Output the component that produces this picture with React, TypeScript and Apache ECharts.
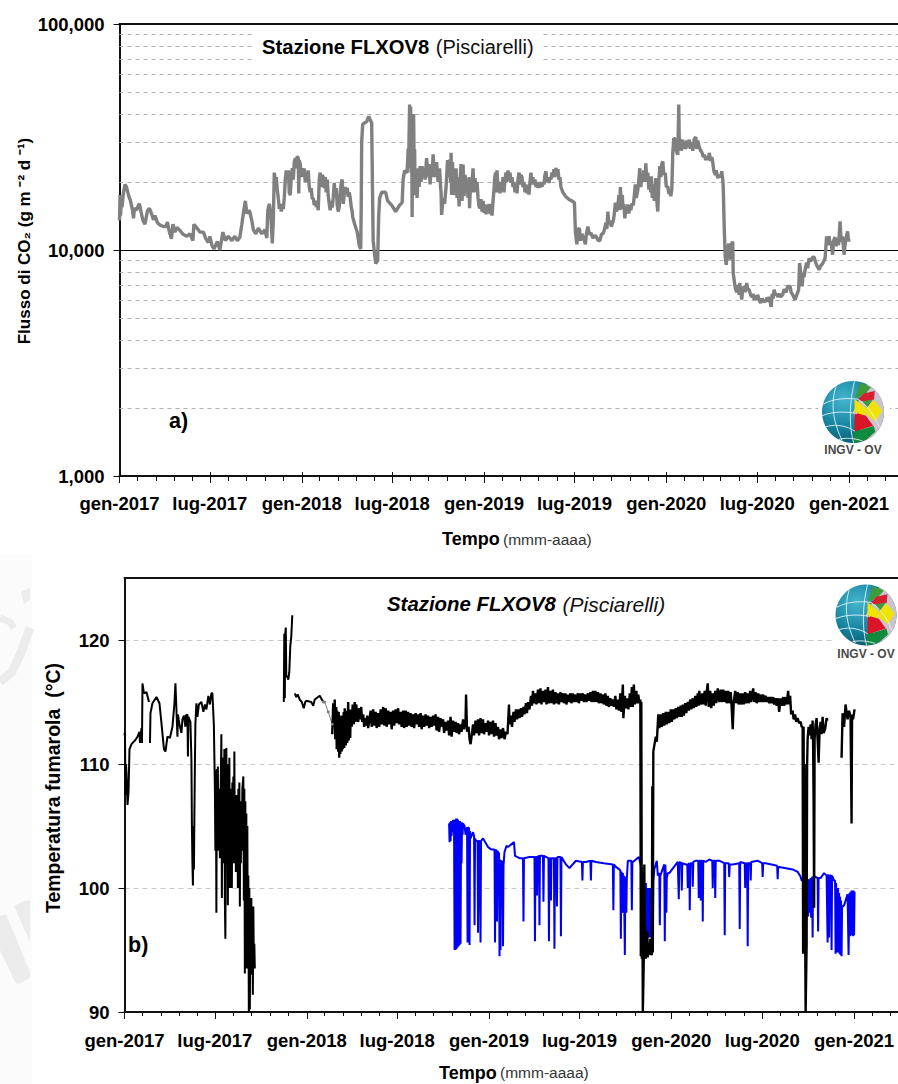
import React, { useEffect, useRef } from "react";
import * as echarts from "echarts";

const majorDays = [0, 181, 365, 546, 730, 911, 1095, 1277, 1461];
const majorLabels = ["gen-2017", "lug-2017", "gen-2018", "lug-2018", "gen-2019", "lug-2019", "gen-2020", "lug-2020", "gen-2021"];
const minorDays = [36, 73, 109, 146, 218, 254, 291, 328, 401, 438, 474, 511, 583, 619, 656, 692, 766, 803, 839, 876, 948, 985, 1022, 1058, 1131, 1168, 1204, 1241, 1314, 1350, 1387, 1424, 1497, 1534];
const fluxGridValues = [2000, 3000, 4000, 5000, 6000, 7000, 8000, 9000, 20000, 30000, 40000, 50000, 60000, 70000, 80000, 90000];
const tempTicks = [90, 100, 110, 120];

const fluxCO2 = [[0,13500],[1,17500],[2,14200],[4,16500],[5,15500],[8,18000],[11,19500],[14,19000],[18,17500],[22,16500],[26,15000],[28,13800],[30,15300],[34,15000],[38,15800],[40,16000],[43,14800],[47,13500],[51,13000],[56,14900],[60,15300],[64,14500],[68,13600],[71,14200],[76,13200],[81,12900],[88,12700],[93,12700],[96,13300],[100,12000],[104,11200],[107,13000],[111,12000],[115,12600],[121,12200],[128,11700],[135,11500],[141,11800],[147,11000],[149,13000],[155,12500],[161,12000],[168,12000],[173,11200],[178,10800],[181,11500],[185,10500],[189,10100],[196,10900],[201,10000],[207,12000],[212,11000],[218,11500],[225,11000],[231,11500],[236,11000],[241,11400],[245,13000],[248,14500],[252,16500],[255,14500],[260,15000],[265,13500],[268,12300],[273,11800],[278,12500],[285,11800],[291,12300],[295,11300],[297,15000],[300,16000],[303,14500],[306,10700],[308,13500],[310,22000],[312,20000],[314,21000],[316,18500],[318,17000],[320,15200],[322,16000],[324,14800],[326,15600],[328,15200],[330,17000],[332,20500],[334,22500],[336,21000],[338,22500],[340,18000],[342,17500],[344,21000],[346,23000],[348,20500],[350,24500],[352,25500],[354,23000],[356,26000],[358,25500],[359,17800],[360,25000],[362,24000],[364,21000],[366,23000],[368,21000],[370,23000],[372,20000],[374,21500],[376,20000],[378,22500],[380,19000],[382,18000],[384,18800],[386,16800],[388,17000],[390,15800],[392,16500],[394,15500],[396,16000],[398,15000],[400,20500],[402,22000],[404,19000],[406,21500],[408,21000],[410,18800],[412,21000],[414,18000],[416,20500],[418,17500],[420,16000],[422,15000],[424,16500],[426,15400],[428,17000],[430,19800],[432,17500],[434,18800],[436,15800],[438,14800],[440,15500],[442,18000],[444,19800],[446,20500],[448,16000],[450,17500],[452,19000],[454,18000],[456,18800],[458,17200],[460,18000],[462,17000],[464,15500],[466,14800],[467,14000],[471,13000],[476,12000],[480,10500],[483,10100],[484,15000],[485,30000],[487,36000],[495,37000],[499,39000],[505,36500],[507,16000],[508,11000],[511,9500],[513,8700],[517,9000],[519,14000],[521,17000],[525,18000],[533,18000],[537,16500],[545,15800],[553,14800],[561,15800],[566,16200],[568,20500],[571,22500],[576,22000],[578,28000],[579,23000],[580,33000],[581,44000],[582,24000],[583,43000],[584,22000],[585,40000],[586,14000],[587,38000],[588,23000],[589,40000],[590,23000],[591,28000],[592,17500],[594,22000],[596,17000],[598,23000],[600,19000],[602,23500],[604,20000],[606,23500],[608,21000],[610,23000],[612,20500],[615,25500],[618,21000],[620,24000],[622,19500],[624,23500],[626,21000],[628,26500],[631,21000],[633,23500],[635,24500],[638,20000],[641,23000],[643,19000],[644,18000],[645,14300],[648,17000],[651,16000],[654,19000],[657,25000],[659,21000],[661,25100],[663,20000],[664,26900],[665,17500],[667,24500],[668,18000],[670,22000],[672,17500],[674,23000],[676,17000],[678,21000],[680,15600],[682,20500],[684,24000],[686,16500],[688,23900],[690,17300],[692,21500],[694,18500],[696,20000],[698,17000],[700,21000],[701,15300],[703,20000],[705,18000],[708,23000],[710,18000],[712,20800],[714,18500],[716,20000],[718,17000],[720,15600],[722,15300],[724,16800],[726,14800],[728,16500],[730,14600],[732,15900],[734,14400],[736,15800],[738,14700],[740,16000],[742,14400],[744,16000],[746,14200],[748,16500],[750,18500],[751,20500],[753,22000],[755,18000],[756,22500],[758,18500],[760,20000],[762,17800],[764,20000],[766,18200],[768,21000],[770,18000],[772,20500],[774,22000],[776,20000],[778,22500],[780,20500],[782,22000],[784,19800],[786,21000],[788,19000],[790,20000],[792,18000],[794,19500],[796,17800],[798,20500],[800,22000],[802,19500],[804,21500],[806,21000],[808,19000],[810,20000],[812,18000],[814,19500],[816,17800],[818,19000],[820,17600],[822,20000],[824,22000],[826,19500],[828,21000],[830,19500],[832,20500],[834,19000],[836,20000],[838,18800],[840,19800],[842,18900],[844,20000],[846,19000],[848,20000],[850,19500],[852,21500],[854,22300],[856,20000],[858,21000],[860,19800],[862,21000],[864,20500],[866,22000],[868,21000],[870,22800],[872,21000],[874,23100],[876,21500],[878,22800],[880,20500],[882,21000],[884,19000],[888,18000],[893,17300],[897,17000],[901,16700],[906,16500],[911,16200],[913,12000],[915,11000],[916,10600],[918,12300],[921,12500],[923,11000],[926,11800],[929,11300],[931,11000],[933,10600],[935,11800],[938,12700],[941,11700],[944,11900],[948,11300],[952,11600],[955,11400],[959,11000],[962,11000],[965,11700],[969,11900],[972,12500],[974,13200],[976,12400],[978,14800],[980,13000],[982,13500],[985,12700],[989,13500],[991,14500],[993,16200],[995,14800],[998,15600],[1000,17500],[1002,15000],[1003,19000],[1005,16000],[1007,17500],[1008,15200],[1010,16000],[1012,13800],[1014,15500],[1016,14500],[1018,15900],[1020,14500],[1022,15800],[1024,15000],[1026,16000],[1029,15800],[1031,17500],[1033,19500],[1035,17000],[1038,18500],[1040,20500],[1042,23000],[1044,19000],[1046,21500],[1048,20000],[1050,22500],[1052,20000],[1054,24200],[1056,20000],[1058,22000],[1060,18500],[1062,21000],[1064,18000],[1065,21200],[1067,17000],[1069,19500],[1071,16500],[1074,20800],[1076,16500],[1078,14800],[1080,20000],[1082,23500],[1084,21000],[1086,24000],[1088,24700],[1090,21500],[1093,21900],[1095,19000],[1098,19100],[1100,17800],[1102,18000],[1104,17300],[1106,18500],[1108,26900],[1110,31300],[1113,30800],[1115,27500],[1118,26400],[1120,44000],[1121,29000],[1123,31000],[1125,27500],[1128,30800],[1130,28000],[1132,30000],[1134,28000],[1136,30500],[1138,28500],[1141,30800],[1143,28000],[1146,30000],[1148,27500],[1151,31000],[1154,31600],[1156,28000],[1158,30500],[1161,28500],[1164,27500],[1167,26800],[1169,25800],[1171,26400],[1174,25000],[1176,26000],[1179,25000],[1181,26900],[1184,24800],[1186,25800],[1188,24500],[1190,22500],[1193,21500],[1195,22500],[1198,20800],[1201,21500],[1204,21000],[1206,22300],[1208,20500],[1209,19100],[1211,12600],[1213,9300],[1215,8600],[1217,9500],[1220,10700],[1222,9060],[1225,10500],[1228,10900],[1229,7900],[1233,6800],[1236,6500],[1238,7000],[1241,6340],[1242,7140],[1244,6600],[1246,6030],[1248,6700],[1251,6900],[1253,6500],[1256,7140],[1258,6700],[1261,6670],[1264,6300],[1267,6200],[1269,6400],[1271,6030],[1274,6300],[1276,6000],[1278,6340],[1281,6000],[1284,5830],[1287,6100],[1290,5900],[1294,5950],[1297,6150],[1299,5900],[1301,6200],[1303,5900],[1305,5600],[1307,6400],[1309,6100],[1311,6670],[1314,6300],[1316,6400],[1318,6200],[1321,6400],[1324,6200],[1328,6340],[1331,6700],[1335,6500],[1338,6900],[1343,6900],[1345,6500],[1348,6340],[1353,6030],[1356,6300],[1360,6670],[1362,8760],[1364,8000],[1367,6900],[1369,7900],[1371,7600],[1373,8200],[1376,8800],[1378,8300],[1381,9200],[1384,8900],[1388,9300],[1391,9300],[1394,8800],[1397,8500],[1401,8180],[1404,8500],[1408,8700],[1413,9200],[1416,11500],[1418,10500],[1421,11500],[1423,10500],[1425,10900],[1428,9530],[1430,11000],[1433,11400],[1435,10400],[1438,11200],[1440,10500],[1443,13400],[1445,11000],[1446,10900],[1448,11500],[1451,9530],[1454,11000],[1458,12100],[1460,10900],[1461,11200]];

const tempBlackEarly = [[0,112.5],[1,112.2],[2,107.5],[3,110],[4,109.3],[6,106.7],[8,107.7],[10,111.2],[14,111.6],[21,111.9],[26,112.2],[30,112.6],[31,111.7],[34,112.9],[35,111.7],[36,116.5],[39,115.7],[44,115.8],[49,115],[50,null],[51,111.7],[52,114.1],[56,114.9],[64,115.4],[70,114.9],[74,113.3],[79,111.2],[82,111],[86,112.2],[91,112.1],[96,113],[100,114.9],[102,116.5],[104,114.4],[106,112.2],[107,114],[110,113.2],[114,112.5],[116,113.6],[119,113.9],[122,113],[123,113.9],[126,114],[127,110.6],[128,113.8],[131,113.5],[132,113.4],[134,110.4],[135,105],[136,102],[137,100.2],[138,105],[139,101.5],[140,106],[141,110],[142,113.3],[144,114.9],[146,113.8],[149,114.8],[154,115],[158,114.2],[161,114.8],[164,114.4],[168,115.5],[171,114.8],[174,115.7],[176,115.7],[179,113.1],[181,108],[182,103],[183,109.5],[184,98],[185,109.6],[186,104],[187,109.8],[188,103],[190,108],[191,102.4],[192,106],[194,112.4],[195,99.2],[196,110.5],[198,102],[200,111.2],[201,99],[202,95.9],[203,105],[204,111.3],[205,102],[206,110],[207,98.6],[208,108],[209,101],[210,110.5],[211,100],[212,108],[213,104],[214,107.5],[215,100],[216,108.5],[217,105],[218,109],[219,102],[220,111],[221,103],[222,107],[223,101.3],[224,107.5],[225,102],[226,107],[227,100],[228,108],[229,103],[230,108.5],[231,98.5],[232,106],[233,102],[234,107],[235,103],[236,108],[238,109],[239,99],[240,108],[241,93.1],[242,107],[243,94],[244,106],[245,93.5],[246,105],[247,94],[248,101],[249,90],[250,100],[251,90.2],[252,98],[253,93],[254,99.2],[255,94],[256,98],[257,91.4],[258,98.5],[259,94],[260,95.5],[261,93.5],[262,null],[319,115],[320,120.5],[321,115.3],[322,120.6],[323,121],[324,117],[326,117.1],[328,116.8],[330,117.4],[332,119.5],[334,120.3],[336,122],[338,null],[341,115.7],[344,115.4],[347,115.6],[351,115.2],[355,115],[359,114.5],[362,115],[364,115.1],[374,115],[378,114.7],[381,115.2],[391,115.5],[398,115]];

const tempGraySegment = [[398,115],[401,115],[408,114.2],[416,113.2]];

const tempBlackBand = [[416,112.4],[418,114.9],[420,113],[421,115.2],[422,112],[424,114.6],[425,111.2],[426,114.3],[428,111],[429,114.2],[430,110.5],[431,113.9],[432,110.8],[434,113.6],[435,111],[436,113.9],[437,111.2],[439,114.2],[440,111.3],[441,114.5],[443,111.5],[445,114.3],[446,111.7],[448,115],[449,111.9],[450,114],[452,112.1],[453,114.4],[455,113],[457,114.8],[459,113.2],[461,115],[463,113.4],[464,114.8],[466,114],[468,113.4],[470,114.5],[472,113.6],[474,114.6],[476,113.4],[478,114],[480,113],[482,113.7],[484,113.1],[486,113.9],[488,112.9],[490,113.5],[493,114.3],[495,113],[498,114.4],[500,113.1],[503,114.2],[505,112.9],[508,114.1],[510,113],[513,114.4],[515,113.2],[518,114.6],[520,113.1],[523,114.5],[525,113],[528,114.3],[530,113.2],[533,114.2],[535,112.8],[538,114.3],[540,113.1],[543,114.4],[545,113.3],[548,114.5],[550,113.2],[553,114.2],[555,113],[558,114.3],[560,112.9],[563,114.3],[565,113],[568,114.2],[570,113.1],[573,114.1],[575,113],[578,114],[580,112.9],[583,114.1],[585,113.2],[588,114],[590,113],[593,114.1],[595,112.8],[598,113.9],[600,113],[603,114],[605,113.1],[608,113.9],[610,112.9],[613,113.8],[615,113],[618,113.9],[620,113.1],[623,114],[625,112.7],[628,113.8],[630,112.6],[633,113.7],[635,113],[638,113.6],[640,112.5],[643,113.4],[645,112.7],[648,113.5],[650,112.3],[653,113.8],[655,112.2],[658,113.5],[660,112.6],[663,113.4],[665,112.5],[668,113.3],[670,112.4],[673,113.2],[675,112.6],[678,113.6],[680,112.8],[683,113.5],[684,115.6],[686,112.6],[689,113],[691,112],[693,111.6],[695,112.2],[698,113.2],[700,112.3],[703,113.5],[705,112.5],[708,113.6],[710,112.3],[713,113.7],[715,112.5],[718,113.6],[720,112.4],[723,113.3],[725,112.6],[728,113.5],[730,112.3],[733,113.4],[735,112.4],[738,113.5],[740,112.2],[743,113.3],[745,112.3],[748,113],[750,112],[753,112.8],[755,112.1],[758,112.9],[761,112],[764,112.6],[767,112.4],[770,114.8],[771,113.2],[774,113.9],[776,113],[779,114.2],[781,113.4],[784,114.4],[786,113.6],[789,114.4],[791,113.7],[794,114.5],[796,113.8],[799,114.6],[801,114],[804,114.9],[806,114.1],[808,115],[811,114.4],[814,115.5],[816,114.7],[818,115.9],[820,114.9],[823,115.7],[825,114.8],[828,116],[830,114.9],[833,116.1],[835,114.8],[838,115.9],[840,115],[843,116],[845,114.8],[848,116.2],[850,114.9],[853,115.9],[855,114.9],[858,116],[860,114.8],[863,115.8],[865,114.9],[868,115.7],[870,114.8],[873,115.8],[875,115],[878,115.7],[880,114.9],[883,115.7],[885,114.8],[888,115.6],[890,115],[893,115.7],[895,114.9],[898,115.7],[900,115],[903,115.6],[905,115],[908,115.7],[910,114.9],[913,115.7],[915,115.1],[918,115.7],[920,115],[923,115.6],[925,115],[928,115.7],[930,115.1],[933,115.8],[935,115],[938,115.9],[940,115],[943,115.9],[945,115],[948,115.8],[950,114.9],[953,115.7],[955,114.9],[958,115.6],[960,114.8],[963,115.7],[965,114.7],[968,115.5],[970,114.6],[973,115.3],[975,114.7],[978,115.2],[980,114.6],[983,115.5],[985,114.4],[988,115.2],[990,114.3],[993,115.7],[995,114.2],[998,116.4],[999,113.7],[1002,115.5],[1004,114.5],[1007,115.3],[1009,114.4],[1012,115.7],[1014,114.6],[1016,116.2],[1018,114.6],[1020,116.4],[1022,114.8],[1025,115.9],[1027,114.9],[1029,115.6],[1031,114.9],[1033,115.2],[1034,94.5],[1035,115],[1036,94.3],[1037,101],[1038,90],[1039,90],[1040,94.5],[1041,101.9],[1042,94.5],[1043,97],[1044,94.3],[1045,95.7],[1046,94.6],[1047,96.5],[1048,94.4],[1049,95.6],[1050,94.6],[1051,95.5],[1052,94.7],[1053,95.9],[1054,94.8],[1055,94.6],[1056,94.7],[1057,108.2],[1058,94.8],[1059,111],[1061,111.5],[1064,112.2],[1066,111.8],[1069,114],[1071,112.9],[1074,114],[1076,113],[1079,114.1],[1081,113.1],[1084,114.2],[1086,113.2],[1089,114.2],[1091,113.3],[1094,114.4],[1096,113.4],[1099,114.4],[1101,113.6],[1104,114.5],[1106,113.7],[1109,114.6],[1111,113.8],[1114,114.7],[1116,113.8],[1118,114.8],[1120,113.9],[1123,114.9],[1125,114.1],[1128,115],[1130,114.3],[1133,115.2],[1135,114.4],[1138,115.3],[1140,114.5],[1143,115.5],[1145,114.6],[1148,115.7],[1150,114.7],[1151,115.9],[1154,114.8],[1157,115.7],[1159,114.8],[1162,115.9],[1164,114.7],[1166,115.9],[1168,116.5],[1170,114.6],[1173,115.9],[1175,114.5],[1178,115.7],[1180,114.7],[1183,115.9],[1185,114.9],[1188,116.1],[1191,115],[1194,116],[1196,115],[1199,116],[1201,115],[1204,115.9],[1206,114.9],[1209,115.9],[1211,114.9],[1214,115.8],[1216,114.5],[1218,112.8],[1220,115],[1223,115.9],[1225,114.9],[1228,115.8],[1230,114.8],[1233,115.7],[1235,114.8],[1238,115.7],[1240,114.8],[1243,115.8],[1245,114.9],[1248,115.7],[1250,114.9],[1253,115.9],[1255,115],[1259,116.1],[1261,115],[1264,115.8],[1266,114.9],[1269,115.7],[1271,115],[1274,115.6],[1276,115],[1279,115.6],[1281,115],[1284,115.5],[1286,115],[1289,115.4],[1291,114.9],[1294,115.4],[1296,114.9],[1299,115.4],[1301,114.8],[1304,115.3],[1306,114.7],[1309,115.3],[1311,114.2],[1314,115.3],[1316,114.7],[1319,115.4],[1321,114.7],[1324,115.4],[1326,114.8],[1329,115.9],[1331,114.8],[1333,115.5],[1335,114],[1338,114.3],[1340,113.6],[1343,114],[1345,113.4],[1348,113.7],[1351,113.3],[1354,113.4],[1356,113],[1358,113],[1359,94.7],[1360,113],[1361,97],[1362,110],[1363,97],[1364,90],[1365,90],[1366,95.4],[1367,110],[1368,112],[1370,113],[1372,112.3],[1374,113.2],[1376,112],[1378,113.5],[1379,111.7],[1380,107],[1381,98.4],[1382,112],[1384,113.2],[1386,113.7],[1388,112],[1390,110.1],[1392,112.8],[1394,113.4],[1396,112.4],[1398,113.8],[1400,112.5],[1403,112.8],[1406,113.7],[1408,113.5],[1410,null],[1436,110.5],[1438,114.1],[1441,113],[1444,114.8],[1448,113.6],[1451,114.3],[1454,113.8],[1456,105.2],[1457,114],[1459,113.6],[1462,114.4]];

const tempBlue = [[650,105.2],[651,103.7],[652,105.3],[653,103.8],[654,105.4],[655,104.2],[656,105.4],[657,104.5],[658,105.5],[659,105.5],[660,104.4],[661,95],[662,105.5],[663,95],[664,105.6],[665,95.1],[666,105.6],[667,95.2],[668,105.5],[669,95.3],[670,105.4],[671,95.4],[672,105.4],[673,95.5],[674,105.3],[675,102],[676,105.3],[677,104.3],[678,105.2],[681,105],[683,104.3],[686,104.9],[687,95.6],[688,104.9],[690,104.8],[691,95.4],[692,104.6],[693,104],[698,104.5],[700,104.2],[701,97],[702,104],[704,103.8],[707,103.8],[708,96.4],[709,103.8],[711,103.8],[712,103.8],[713,95.6],[714,103.8],[718,104],[728,103.3],[735,103.1],[741,103.1],[742,95.6],[743,103.1],[745,103],[746,97.3],[747,103],[748,102.9],[750,102.8],[751,94.5],[752,102.3],[753,95],[754,102.2],[757,102.1],[758,95.3],[759,101.8],[761,102.9],[765,103.4],[768,103.3],[780,103.7],[782,102.6],[791,102.4],[798,102.4],[799,97.3],[800,102.4],[811,102.5],[821,102.5],[822,95.7],[823,102.5],[825,102.5],[826,99.4],[827,102.5],[830,102.6],[831,97],[832,102.6],[838,102.6],[839,98.9],[840,102.6],[849,102.4],[850,95.7],[851,102.4],[853,102.4],[854,99],[855,102.4],[860,102.4],[861,95.1],[862,102.4],[865,102.4],[866,98.5],[867,102.5],[871,102.5],[873,102.5],[874,96.1],[875,102.5],[884,101.9],[891,101.6],[904,102.2],[916,102.1],[917,100.6],[918,102.1],[924,102.1],[933,102.2],[934,100.6],[935,102.2],[944,102.1],[960,102],[978,101.9],[979,98.2],[980,101.9],[984,101.7],[991,101.5],[993,101.4],[994,95.9],[995,101.3],[996,101.2],[997,98],[998,101.2],[999,99],[1000,101],[1001,101],[1002,94.6],[1003,100.9],[1004,100.8],[1005,98],[1006,100.8],[1008,102.2],[1015,102.2],[1016,98.2],[1017,102],[1018,102.1],[1030,102.5],[1036,101.5],[1038,96],[1040,101.3],[1042,96],[1044,100.4],[1046,96],[1048,100],[1050,96],[1052,100],[1054,96],[1056,100],[1058,95.7],[1059,100.5],[1061,101.5],[1066,102.2],[1068,101],[1071,101.2],[1072,97],[1073,101],[1081,101.9],[1082,95.7],[1083,101.9],[1084,101],[1085,98],[1086,100.8],[1088,101.2],[1091,101.2],[1108,102.1],[1109,102.1],[1110,99.1],[1111,102.1],[1115,102],[1116,99.8],[1117,102],[1124,101.9],[1127,101.9],[1128,100],[1129,101.9],[1131,102],[1132,98.2],[1133,102],[1137,102],[1138,100.1],[1139,102.1],[1144,102.2],[1149,102.2],[1150,99.2],[1151,102.2],[1153,102.2],[1154,99],[1155,102.2],[1157,102.2],[1158,97.3],[1159,102.2],[1164,102.1],[1171,102.3],[1177,102.2],[1178,100],[1179,102.2],[1182,102.2],[1183,99.2],[1184,102.2],[1191,102.2],[1201,102],[1202,96.2],[1203,102],[1210,102],[1211,100.9],[1212,101.9],[1218,101.9],[1231,102],[1232,96.7],[1233,102.1],[1234,102.1],[1242,102],[1243,100],[1244,102],[1247,102],[1248,95.3],[1249,102],[1253,102],[1254,100.6],[1255,102.1],[1268,102.2],[1277,102],[1278,100.9],[1279,102],[1284,102],[1296,101.9],[1307,101.8],[1308,100.7],[1309,101.7],[1311,101.7],[1325,101.6],[1338,101.5],[1348,101.3],[1354,100.9],[1356,100.6],[1368,100.7],[1369,97.7],[1370,100.7],[1372,98],[1374,100.8],[1375,97.6],[1377,100.9],[1378,96],[1379,100.9],[1384,100.9],[1388,100.8],[1389,96.5],[1390,100.8],[1394,100.8],[1401,101.2],[1406,101],[1407,101],[1408,95.6],[1409,101.1],[1411,96],[1412,101],[1415,101],[1416,95],[1417,101],[1421,100.6],[1423,100.6],[1424,94.7],[1425,100.4],[1426,95],[1427,100],[1428,94.8],[1429,100],[1430,95],[1431,99.6],[1432,94.7],[1433,99.3],[1434,94.6],[1435,99],[1436,94.5],[1437,98.6],[1438,98.5],[1441,98.6],[1448,99.5],[1449,99.5],[1450,94.6],[1452,99.6],[1453,96.1],[1454,99.7],[1455,96.2],[1456,99.8],[1457,96.3],[1458,99.8],[1459,96.1],[1460,99.8],[1461,96.2],[1462,99.7]];

const FONT = '"Liberation Sans", Arial, sans-serif';

function pts(r: number, list: number[][]) {
  return list.map(([u, v]) => [u * r, v * r]);
}

function makeLogo(cx: number, cy: number, r: number, labelY: number, box: number[]) {
  const poly = (list: number[][], fill: string) => ({ type: "polygon", z: 12, shape: { points: pts(r, list) }, style: { fill } });
  const curve = (a: number[]) => ({
    type: "bezierCurve", z: 13,
    shape: { x1: a[0] * r, y1: a[1] * r, cpx1: a[2] * r, cpy1: a[3] * r, cpx2: a[4] * r, cpy2: a[5] * r, x2: a[6] * r, y2: a[7] * r },
    style: { stroke: "#dff3f6", lineWidth: 0.9, fill: "none" },
  });
  return [
    { type: "rect", z: 10, shape: { x: box[0], y: box[1], width: box[2], height: box[3] }, style: { fill: "#fff" } },
    {
      type: "group", x: cx, y: cy, z: 12,
      children: [
        {
          type: "circle", z: 11, shape: { cx: 0, cy: 0, r },
          style: { fill: { type: "radial", x: 0.35, y: 0.3, r: 0.85, colorStops: [{ offset: 0, color: "#45b6cf" }, { offset: 0.55, color: "#14819c" }, { offset: 1, color: "#07495c" }] } },
        },
        { type: "sector", z: 11, shape: { cx: 0, cy: 0, r, r0: 0, startAngle: -1.1, endAngle: 1.2, clockwise: true }, style: { fill: "#cdc3cf" } },
        poly([[0.05, -0.42], [0.24, -0.95], [0.58, -0.8], [0.4, -0.58]], "#3f9a3c"),
        poly([[0.14, -0.38], [0.35, -0.6], [0.7, -0.68], [0.68, -0.4], [0.4, -0.33]], "#d81f2f"),
        poly([[0.3, -0.35], [0.64, -0.4], [0.45, -0.12]], "#3f9a3c"),
        poly([[0.05, -0.42], [0.45, -0.1], [0.4, 0.14], [0.05, 0.02]], "#f1e300"),
        poly([[0.46, -0.15], [0.68, -0.38], [0.94, -0.05], [0.72, 0.3], [0.45, 0.1]], "#f1e300"),
        poly([[0.05, 0.02], [0.42, 0.12], [0.65, 0.44], [0.05, 0.64]], "#dc1428"),
        poly([[0.03, 0.64], [0.67, 0.45], [0.72, 0.64], [0.42, 0.9], [0.03, 1]], "#108a3c"),
        curve([0.05, -1, -0.1, -0.4, -0.15, 0.4, 0.02, 1]),
        curve([-0.55, -0.82, -0.75, -0.2, -0.6, 0.4, -0.35, 0.92]),
        curve([-0.97, -0.25, -0.6, -0.45, -0.2, -0.45, 0.13, -0.42]),
        curve([-1, 0.12, -0.6, -0.05, -0.1, 0.0, 0.13, 0.05]),
        curve([-0.88, 0.48, -0.5, 0.35, -0.1, 0.5, 0.06, 0.62]),
        curve([-0.45, 0.88, -0.2, 0.82, 0.05, 0.85, 0.3, 0.93]),
        curve([0.13, -0.42, 0.4, -0.3, 0.7, 0.1, 0.85, 0.5]),
      ],
    },
    {
      type: "text", z: 13, x: cx, y: labelY,
      style: { text: "INGV - OV", fontFamily: FONT, fontWeight: "bold", fontSize: 12, fill: "#4a4a4a", align: "center", verticalAlign: "middle" },
    },
  ];
}

function tempoLabel(x: number, y: number) {
  return {
    type: "text", z: 11, x, y,
    style: {
      text: "{b|Tempo} {n|(mmm-aaaa)}",
      fontFamily: FONT,
      verticalAlign: "middle",
      rich: {
        b: { fontFamily: FONT, fontWeight: "bold", fontSize: 18, fill: "#000" },
        n: { fontFamily: FONT, fontSize: 15.5, fill: "#333" },
      },
    },
  };
}

function rotatedName(text: string, x: number, y: number, fontSize: number) {
  return {
    type: "text", z: 11, x, y, rotation: Math.PI / 2,
    style: { text, fontFamily: FONT, fontWeight: "bold", fontSize, fill: "#000", align: "center", verticalAlign: "middle" },
  };
}

export default function App() {
  const ref = useRef<HTMLDivElement>(null);
  useEffect(() => {
    const chart = echarts.init(ref.current!, undefined, { renderer: "svg" });
    const labelStyle = { fontFamily: FONT, fontWeight: "bold" as const, fontSize: 18.5, color: "#000" };
    const base = { type: "value", min: 0, splitLine: { show: false } };
    const fmtDay = (v: number) => majorLabels[majorDays.indexOf(v)] ?? "";
    const mainX = (grid: number, max: number, margin: number, tick: number) => ({
      ...base, gridIndex: grid, max, position: "bottom",
      axisLine: { show: true, onZero: false, lineStyle: { color: "#111", width: 2 } },
      axisTick: { show: true, length: tick, customValues: majorDays, lineStyle: { color: "#111", width: 1 } },
      axisLabel: { show: true, customValues: majorDays, formatter: fmtDay, margin, ...labelStyle, hideOverlap: false },
    });
    const tickX = (grid: number, max: number, values: number[], length: number, inside: boolean) => ({
      ...base, gridIndex: grid, max, position: "bottom",
      axisLine: { show: false, onZero: false },
      axisTick: { show: true, inside, length, customValues: values, lineStyle: { color: "#111", width: 1 } },
      axisLabel: { show: false },
    });
    const topX = (grid: number, max: number) => ({
      ...base, gridIndex: grid, max, position: "top",
      axisLine: { show: true, onZero: false, lineStyle: { color: "#111", width: 2 } },
      axisTick: { show: false }, axisLabel: { show: false },
    });
    const MAX_A = 1559, MAX_B = 1549;
    const option: any = {
      animation: false,
      backgroundColor: "#fff",
      grid: [
        { left: 119.5, top: 24, width: 778.5, height: 452, containLabel: false },
        { left: 124.5, top: 578, width: 773.5, height: 434, containLabel: false },
      ],
      xAxis: [
        mainX(0, MAX_A, 18, 7),
        tickX(0, MAX_A, minorDays, 5, false),
        tickX(0, MAX_A, majorDays, 4, true),
        topX(0, MAX_A),
        mainX(1, MAX_B, 19, 7),
        tickX(1, MAX_B, minorDays, 4, false),
        topX(1, MAX_B),
      ],
      yAxis: [
        {
          type: "log", logBase: 10, min: 1000, max: 100000, gridIndex: 0,
          axisLine: { show: true, onZero: false, lineStyle: { color: "#111", width: 2 } },
          axisTick: { show: true, length: 6, lineStyle: { color: "#111" } },
          axisLabel: { margin: 15, ...labelStyle, formatter: (v: number) => Number(v).toLocaleString("en-US") },
          splitLine: { show: false },
        },
        {
          type: "log", logBase: 10, min: 1000, max: 100000, gridIndex: 0,
          axisLine: { show: false, onZero: false },
          axisTick: { show: true, length: 3, customValues: fluxGridValues, lineStyle: { color: "#111" } },
          axisLabel: { show: false }, splitLine: { show: false },
        },
        {
          type: "value", min: 90, max: 125, interval: 10, gridIndex: 1,
          axisLine: { show: true, onZero: false, lineStyle: { color: "#111", width: 2 } },
          axisTick: { show: true, length: 6, customValues: tempTicks, lineStyle: { color: "#111" } },
          axisLabel: { margin: 15, ...labelStyle, customValues: tempTicks },
          splitLine: { show: true, lineStyle: { color: "#c8c8c8", type: [5, 4], width: 1 } },
        },
      ],
      series: [
        {
          type: "line", name: "Flusso CO2", xAxisIndex: 0, yAxisIndex: 0, data: fluxCO2, symbol: "none", z: 3,
          lineStyle: { color: "#808080", width: 3.4 },
          markLine: {
            silent: true, symbol: ["none", "none"], z: 1, animation: false, label: { show: false },
            lineStyle: { color: "#b0b0b0", type: [4, 4], width: 1 },
            data: [
              ...fluxGridValues.map((v) => ({ yAxis: v })),
              { yAxis: 10000, lineStyle: { color: "#000", type: "solid", width: 1.2 } },
            ],
          },
        },
        { type: "line", name: "Blu", xAxisIndex: 4, yAxisIndex: 2, data: tempBlue, symbol: "none", z: 3, lineStyle: { color: "#0000f5", width: 2 } },
        { type: "line", name: "Nero 1", xAxisIndex: 4, yAxisIndex: 2, data: tempBlackEarly, symbol: "none", z: 4, lineStyle: { color: "#000", width: 2 } },
        { type: "line", name: "Grigio", xAxisIndex: 4, yAxisIndex: 2, data: tempGraySegment, symbol: "circle", symbolSize: 3, showSymbol: true, z: 4, itemStyle: { color: "#808080" }, lineStyle: { color: "#808080", width: 1 } },
        { type: "line", name: "Nero 2", xAxisIndex: 4, yAxisIndex: 2, data: tempBlackBand, symbol: "none", z: 4, lineStyle: { color: "#000", width: 2.4 } },
      ],
      graphic: [
        { type: "rect", z: 0, shape: { x: 0, y: 555, width: 32, height: 529 }, style: { fill: "#fbfbfb" } },
        { type: "polyline", z: 1, shape: { points: [[30, 628], [22, 650], [12, 672], [0, 682]] }, style: { stroke: "#ececec", lineWidth: 9, fill: "none" } },
        { type: "polyline", z: 1, shape: { points: [[0, 618], [10, 622], [14, 628]] }, style: { stroke: "#ececec", lineWidth: 7, fill: "none" } },
        { type: "polygon", z: 1, shape: { points: [[21, 592], [30, 588], [30, 600], [24, 604]] }, style: { fill: "#ececec" } },
        { type: "polygon", z: 1, shape: { points: [[0, 916], [6, 914], [30, 972], [30, 978], [19, 984], [15, 982], [0, 950]] }, style: { fill: "#ececec" } },
        { type: "polygon", z: 1, shape: { points: [[14, 906], [24, 901], [30, 900], [30, 942]] }, style: { fill: "#ececec" } },
        rotatedName("Flusso di CO₂ (g m ⁻² d ⁻¹)", 24, 241, 17),
        rotatedName("Temperatura fumarola  (°C)", 53, 788, 19.5),
        { type: "rect", z: 10, shape: { x: 254, y: 30, width: 286, height: 33 }, style: { fill: "#fff" } },
        {
          type: "text", z: 11, x: 262, y: 47,
          style: {
            text: "{b|Stazione FLXOV8}  {n|(Pisciarelli)}", verticalAlign: "middle", fontFamily: FONT,
            rich: { b: { fontFamily: FONT, fontWeight: "bold", fontSize: 20.2, fill: "#000" }, n: { fontFamily: FONT, fontSize: 20, fill: "#111" } },
          },
        },
        {
          type: "text", z: 11, x: 387, y: 604,
          style: {
            text: "{b|Stazione FLXOV8}  {n|(Pisciarelli)}", verticalAlign: "middle", fontFamily: FONT,
            rich: { b: { fontFamily: FONT, fontWeight: "bold", fontStyle: "italic", fontSize: 20.4, fill: "#000" }, n: { fontFamily: FONT, fontStyle: "italic", fontSize: 21, fill: "#111" } },
          },
        },
        { type: "text", z: 11, x: 169, y: 421, style: { text: "a)", fontFamily: FONT, fontWeight: "bold", fontSize: 21.5, fill: "#000", verticalAlign: "middle" } },
        { type: "text", z: 11, x: 128, y: 945, style: { text: "b)", fontFamily: FONT, fontWeight: "bold", fontSize: 21.5, fill: "#000", verticalAlign: "middle" } },
        tempoLabel(442, 539),
        tempoLabel(439, 1072.5),
        ...makeLogo(853, 412, 31, 450, [818, 376, 72, 82]),
        ...makeLogo(866, 615, 30.5, 654, [832, 582, 66, 80]),
      ],
    };
    chart.setOption(option);
    return () => chart.dispose();
  }, []);
  return <div ref={ref} style={{ position: "absolute", left: 0, top: 0, width: 898, height: 1084 }} />;
}
